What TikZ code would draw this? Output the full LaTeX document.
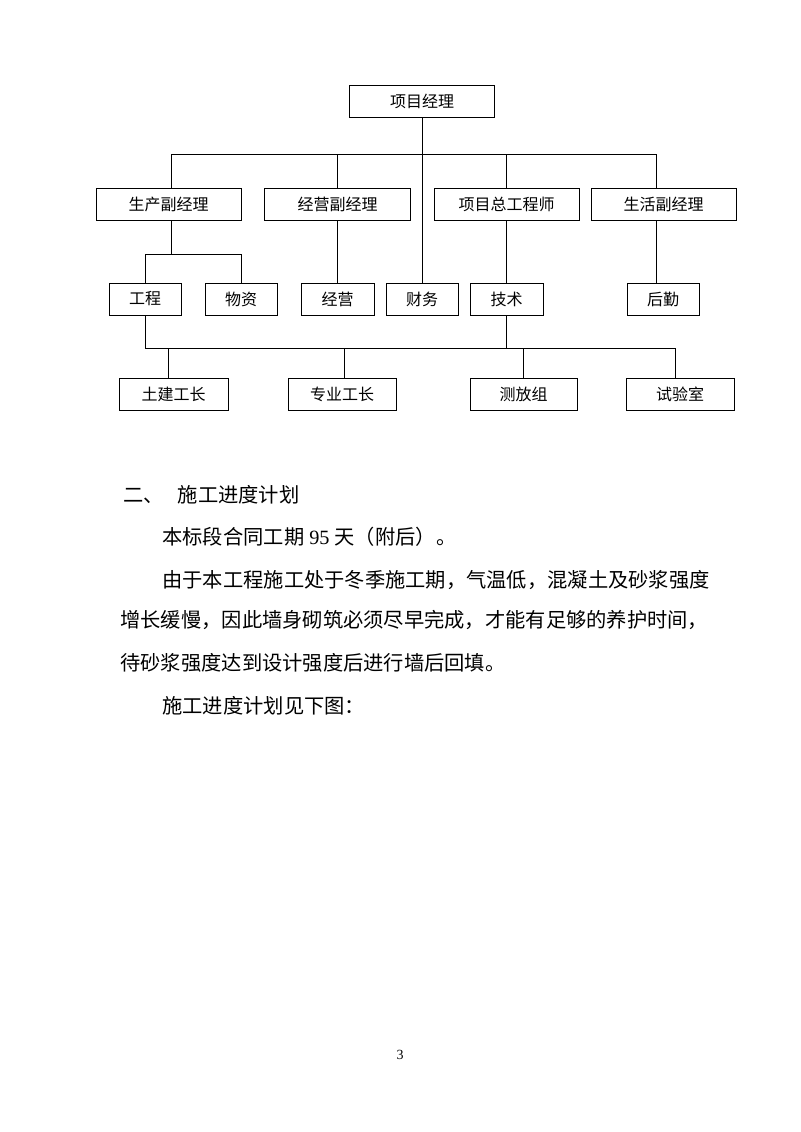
\documentclass[tikz,border=0pt]{standalone}
\usepackage{fontspec}
\setmainfont{Liberation Serif}
\newfontfamily\cjk{Noto Sans CJK SC}
\begin{document}
\begin{tikzpicture}[x=0.75pt,y=-0.75pt, line width=0.6pt,
  bx/.style={draw, line width=0.6pt, inner sep=0pt, minimum width=#1*0.75pt,
    minimum height=24pt, font=\cjk\fontsize{12pt}{14pt}\selectfont},
  body/.style={anchor=west, inner sep=0pt, font=\fontsize{15.2pt}{18pt}\selectfont}]
\useasboundingbox (0,0) rectangle (800,1132);
% level 0
\node[bx=145] (pm) at (422,101.5) {项目经理};
% level 1
\node[bx=145] (a1) at (168.5,204) {生产副经理};
\node[bx=146] (a2) at (337.5,204) {经营副经理};
\node[bx=145] (a3) at (506.5,204) {项目总工程师};
\node[bx=145] (a4) at (663.5,204) {生活副经理};
% level 2
\node[bx=72] (gc) at (145,299) {工程};
\node[bx=72] (wz) at (241,299) {物资};
\node[bx=73] (jy) at (337.5,299) {经营};
\node[bx=72] (cw) at (422,299) {财务};
\node[bx=73] (js) at (506.5,299) {技术};
\node[bx=72] (hq) at (663,299) {后勤};
% level 3
\node[bx=109] (t1) at (173.5,394.5) {土建工长};
\node[bx=108] (t2) at (342,394.5) {专业工长};
\node[bx=107] (t3) at (523.5,394.5) {测放组};
\node[bx=108] (t4) at (680,394.5) {试验室};
% bus coordinates
\coordinate (b1L) at (171.8,154);
\coordinate (b1R) at (656,154);
\coordinate (b2) at (144.5,254);
\coordinate (b3) at (144.5,348);
\coordinate (b3R) at (674.9,348);
\coordinate (d1) at (168.8,348);
\coordinate (d2) at (344.5,348);
\coordinate (d3) at (523.1,348);
% connectors
\draw (pm.south) -- (cw.north);
\draw (b1L) -- (b1R);
\draw (b1L) -- (b1L |- a1.north);
\draw (a2.north) -- (a2.north |- b1L);
\draw (a3.north) -- (a3.north |- b1L);
\draw (b1R) -- (b1R |- a4.north);
\draw (b1L |- a1.south) -- (b1L |- b2);
\draw (gc.north) -- (gc.north |- b2) -- (wz.north |- b2) -- (wz.north);
\draw (a2.south) -- (jy.north);
\draw (a3.south) -- (js.north);
\draw (b1R |- a4.south) -- (b1R |- hq.north);
\draw (gc.south) -- (gc.south |- b3) -- (b3R);
\draw (js.south) -- (js.south |- b3);
\draw (d1) -- (d1 |- t1.north);
\draw (d2) -- (d2 |- t2.north);
\draw (d3) -- (d3 |- t3.north);
\draw (b3R) -- (b3R |- t4.north);
% text
\node[body] (h1) at (123,495) {{\cjk 二、}\hspace{10.5pt}{\cjk 施工进度计划}};
\node[body] (p1) at (162,537) {{\cjk 本标段合同工期} 95 {\cjk 天（附后）。}};
\node[body] (p2) at (162,580) {\cjk 由于本工程施工处于冬季施工期，气温低，混凝土及砂浆强度};
\node[body] (p3) at (120,620) {\cjk 增长缓慢，因此墙身砌筑必须尽早完成，才能有足够的养护时间，};
\node[body] (p4) at (120,663) {\cjk 待砂浆强度达到设计强度后进行墙后回填。};
\node[body] (p5) at (162,706) {\cjk 施工进度计划见下图：};
\node[inner sep=0pt, font=\fontsize{10.5pt}{12pt}\selectfont] (pg) at (400,1055) {3};
\end{tikzpicture}
\end{document}
